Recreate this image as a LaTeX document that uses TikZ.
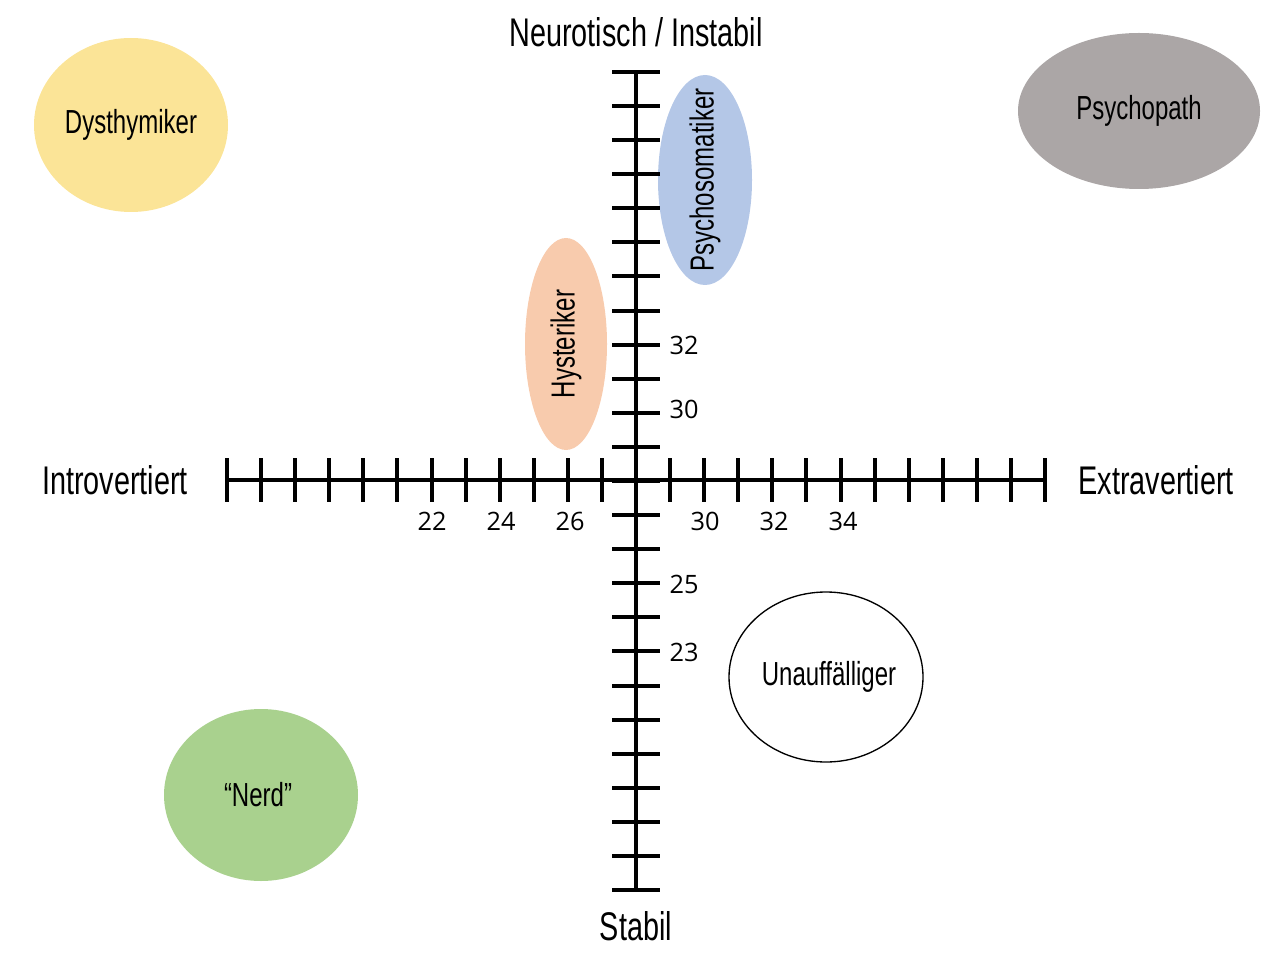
\documentclass[tikz,border=0pt]{standalone}
\usepackage{fontspec}
\setmainfont{Liberation Sans}[FakeStretch=0.72]
\newfontfamily\numfont{Open Sans}
\begin{document}
\begin{tikzpicture}[x=0.75pt,y=-0.75pt,
 ax/.style={line width=3pt,black},
 elab/.style={font=\fontsize{25}{27}\selectfont},
 lab/.style={font=\fontsize{30}{32}\selectfont},
 num/.style={font=\numfont\fontsize{19}{21}\selectfont}]
\useasboundingbox (0,0) rectangle (1280,955);
% ellipses
\fill[fill={rgb,255:red,251;green,228;blue,151}] (131,125) ellipse [x radius=97,y radius=87];
\fill[fill={rgb,255:red,171;green,166;blue,166}] (1139,111) ellipse [x radius=121,y radius=78];
\fill[fill={rgb,255:red,180;green,199;blue,231}] (705,180) ellipse [x radius=47,y radius=105];
\fill[fill={rgb,255:red,248;green,203;blue,173}] (566,344) ellipse [x radius=41,y radius=106];
\draw[line width=1pt] (826,677) ellipse [x radius=97,y radius=85];
\fill[fill={rgb,255:red,169;green,209;blue,142}] (261,795) ellipse [x radius=97,y radius=86];
\node[elab] (dy) at (131,125) {Dysthymiker};
\node[elab] (ps) at (1139,111) {Psychopath};
\node[elab,rotate=90] (pm) at (705,180) {Psychosomatiker};
\node[elab,rotate=90] (hy) at (566,344) {Hysteriker};
\node[elab] (un) at (829,677) {Unauffälliger};
\node[elab] (ne) at (258,795) {“Nerd”};
% axes
\coordinate (l) at (227,480); \coordinate (r) at (1045,480);
\coordinate (t) at (636,72); \coordinate (b) at (636,890);
\draw[ax] (l) -- (r);
\draw[ax] (t) -- (b);
\foreach \i in {0,...,24} {
  \draw[ax] ({227+\i*34.0833},458) -- ({227+\i*34.0833},502);
  \draw[ax] (612,{72+\i*34.0833}) -- (660,{72+\i*34.0833});
}
\foreach \x/\t in {432/22,501/24,570/26,705/30,774/32,843/34}
  \node[num] at (\x,521) {\t};
\foreach \y/\t in {345/32,409/30,584/25,652/23}
  \node[num] at (684,\y) {\t};
\node[lab] (n) at (636,32) {Neurotisch / Instabil};
\node[lab] (s) at (636,926) {Stabil};
\node[lab] (i) at (115,480) {Introvertiert};
\node[lab] (e) at (1156,480) {Extravertiert};
\end{tikzpicture}
\end{document}
